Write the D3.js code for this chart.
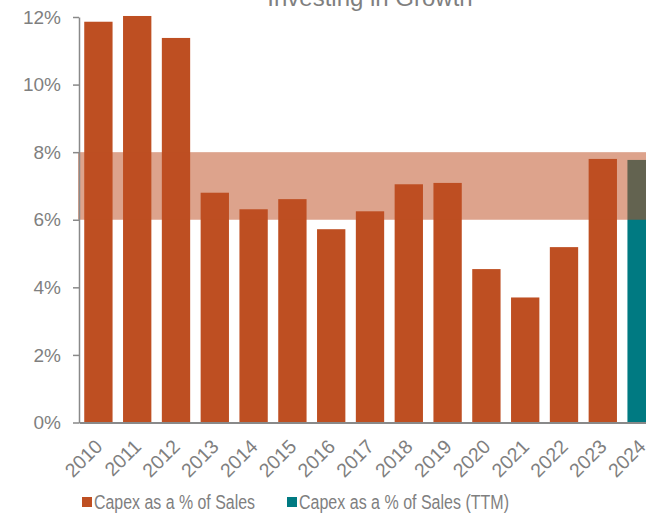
<!DOCTYPE html>
<html>
<head>
<meta charset="utf-8">
<script src="https://cdn.jsdelivr.net/npm/d3@7"></script>
<style>
  html, body { margin: 0; padding: 0; background: #fff; overflow: hidden; }
  svg { display: block; font-family: "Liberation Sans", Arial, sans-serif; }
</style>
</head>
<body>
<svg id="chart" width="646" height="514"></svg>
<script>
// Capex as a share of sales, by year
const years = ["2010","2011","2012","2013","2014","2015","2016","2017","2018","2019","2020","2021","2022","2023","2024"];
const capexPct = [11.86, 12.03, 11.38, 6.80, 6.31, 6.61, 5.72, 6.25, 7.05, 7.09, 4.54, 3.70, 5.19, 7.80, null];
const capexTtmPct = [null, null, null, null, null, null, null, null, null, null, null, null, null, null, 7.77];
const targetRange = [6, 8];
const yTicks = [0, 2, 4, 6, 8, 10, 12];
const seriesNames = ["Capex as a % of Sales", "Capex as a % of Sales (TTM)"];
const title = "Investing in Growth";

const colors = { capex: "#BE4F22", ttm: "#007A82", band: "#BE4F22", text: "#7F7F7F", axis: "#898989" };

const svg = d3.select("#chart");

const x = d3.scaleBand()
  .domain(years)
  .range([79, 79 + 15 * 38.8])
  .paddingInner(0.27)
  .paddingOuter(0.135);

const y = d3.scaleLinear().domain([0, 12]).range([422.5, 17]);

// title (sits partly above the visible area)
svg.append("text")
  .attr("x", 370).attr("y", 6)
  .attr("text-anchor", "middle")
  .attr("font-size", 24)
  .attr("fill", colors.text)
  .text(title);

// bars: annual series
svg.append("g").selectAll("rect")
  .data(years.map((yr, i) => ({ yr, v: capexPct[i] })).filter(d => d.v != null))
  .join("rect")
  .attr("x", d => x(d.yr))
  .attr("width", x.bandwidth())
  .attr("y", d => y(d.v))
  .attr("height", d => y(0) - y(d.v))
  .attr("fill", colors.capex);

// bars: trailing-twelve-month series
svg.append("g").selectAll("rect")
  .data(years.map((yr, i) => ({ yr, v: capexTtmPct[i] })).filter(d => d.v != null))
  .join("rect")
  .attr("x", d => x(d.yr))
  .attr("width", x.bandwidth())
  .attr("y", d => y(d.v))
  .attr("height", d => y(0) - y(d.v))
  .attr("fill", colors.ttm);

// translucent target band drawn over the bars
svg.append("rect")
  .attr("x", x.range()[0] - 1)
  .attr("width", x.range()[1] - x.range()[0] + 1)
  .attr("y", y(targetRange[1]))
  .attr("height", y(targetRange[0]) - y(targetRange[1]))
  .attr("fill", colors.band)
  .attr("fill-opacity", 0.52);

// y axis
const yAxis = svg.append("g")
  .attr("transform", `translate(${x.range()[0]},0)`)
  .call(d3.axisLeft(y).tickValues(yTicks).tickFormat(d => d + "%").tickSize(6).tickSizeOuter(0).tickPadding(12));
yAxis.select(".domain").attr("stroke", colors.axis).attr("stroke-width", 1.5);
yAxis.selectAll(".tick line").attr("stroke", colors.axis).attr("stroke-width", 1.5);
yAxis.selectAll(".tick text")
  .attr("fill", colors.text)
  .attr("font-size", 19)
  .attr("font-family", "Liberation Sans, Arial, sans-serif");

// x axis
const xAxis = svg.append("g")
  .attr("transform", `translate(0,${y(0)})`)
  .call(d3.axisBottom(x).tickSize(0).tickSizeOuter(0).tickPadding(0));
xAxis.select(".domain").attr("stroke", colors.axis).attr("stroke-width", 2);
xAxis.selectAll(".tick text")
  .attr("fill", colors.text)
  .attr("font-size", 19.5)
  .attr("font-family", "Liberation Sans, Arial, sans-serif")
  .attr("text-anchor", "end")
  .attr("transform", "translate(-1,19) rotate(-45)")
  .attr("dy", "0.45em");

// legend
const legend = svg.append("g").attr("font-size", 20).attr("fill", colors.text);
const legendItems = [
  { name: seriesNames[0], color: colors.capex, x: 82, w: 161 },
  { name: seriesNames[1], color: colors.ttm, x: 287, w: 210 }
];
legendItems.forEach(it => {
  legend.append("rect").attr("x", it.x).attr("y", 497).attr("width", 10).attr("height", 10).attr("fill", it.color);
  legend.append("text")
    .attr("x", it.x + 12).attr("y", 509)
    .attr("textLength", it.w)
    .attr("lengthAdjust", "spacingAndGlyphs")
    .text(it.name);
});
</script>
</body>
</html>
